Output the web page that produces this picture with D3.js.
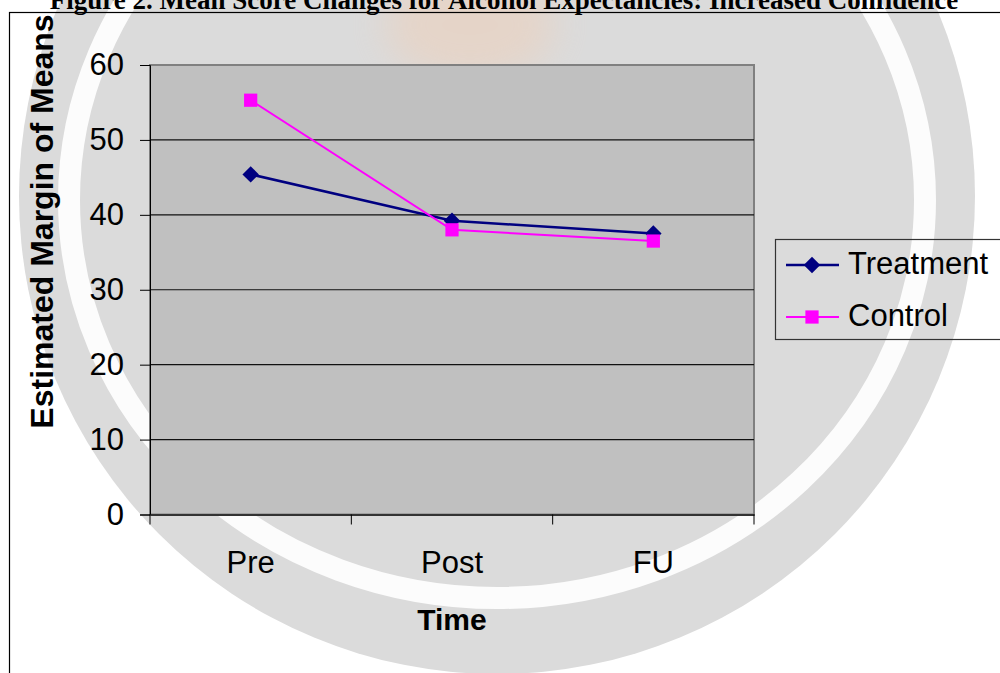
<!DOCTYPE html>
<html>
<head>
<meta charset="utf-8">
<script src="https://cdn.jsdelivr.net/npm/d3@7"></script>
<style>
  body { margin: 0; background: #fff; }
  svg { display: block; }
</style>
</head>
<body>
<script>
var titleText = "Figure 2.  Mean Score Changes for Alcohol Expectancies: Increased Confidence";
var yTitle = "Estimated Margin of Means";
var xTitle = "Time";
var times = ["Pre", "Post", "FU"];
var yTicks = [0, 10, 20, 30, 40, 50, 60];
var treatment = [45.4, 39.2, 37.5];
var control = [55.3, 38.0, 36.5];
var seriesNames = ["Treatment", "Control"];

var W = 1000, H = 673;
var plot = { left: 150, right: 754, top: 65, bottom: 514.5 };
var font = "Arial, 'Liberation Sans', sans-serif";

var svg = d3.select("body").append("svg")
    .attr("width", W)
    .attr("height", H);

var defs = svg.append("defs");
defs.append("filter").attr("id", "soft")
    .attr("x", "-50%").attr("y", "-50%").attr("width", "200%").attr("height", "200%")
    .append("feGaussianBlur").attr("stdDeviation", 18);

// faint seal watermark behind the page
var wm = svg.append("g").attr("class", "watermark");
wm.append("circle")
    .attr("cx", 497).attr("cy", 196).attr("r", 478)
    .attr("fill", "#dbdbdb");
wm.append("ellipse")
    .attr("cx", 470).attr("cy", 25).attr("rx", 85).attr("ry", 55)
    .attr("fill", "#f2cdb3").attr("opacity", 0.45)
    .attr("filter", "url(#soft)");
wm.append("ellipse")
    .attr("cx", 497).attr("cy", 200).attr("rx", 428).attr("ry", 398)
    .attr("fill", "none").attr("stroke", "#fff").attr("stroke-width", 22)
    .attr("opacity", 0.9);

// title, clipped at the top of the page
svg.append("text")
    .attr("x", 504).attr("y", 9)
    .attr("text-anchor", "middle")
    .attr("font-family", "'Liberation Serif', 'Times New Roman', serif")
    .attr("font-weight", "bold")
    .attr("font-size", 27)
    .text(titleText);

// chart border
svg.append("rect")
    .attr("x", 9.5).attr("y", 12.5)
    .attr("width", 1100).attr("height", 800)
    .attr("fill", "none").attr("stroke", "#000").attr("stroke-width", 1.2);

var x = d3.scaleBand()
    .domain(times)
    .range([plot.left, plot.right]);
var y = d3.scaleLinear()
    .domain([0, 60])
    .range([plot.bottom, plot.top]);

// plot area
svg.append("rect")
    .attr("x", plot.left).attr("y", plot.top)
    .attr("width", plot.right - plot.left).attr("height", plot.bottom - plot.top)
    .attr("fill", "#c0c0c0")
    .attr("stroke", "#808080").attr("stroke-width", 2);

// gridlines
svg.append("g").selectAll("line")
    .data(yTicks.filter(function (d) { return d > 0 && d < 60; }))
    .enter().append("line")
    .attr("x1", plot.left).attr("x2", plot.right)
    .attr("y1", function (d) { return y(d); })
    .attr("y2", function (d) { return y(d); })
    .attr("stroke", "#111").attr("stroke-width", 1.2);

// y axis
var yAxis = svg.append("g")
    .attr("transform", "translate(" + plot.left + ",0)")
    .call(d3.axisLeft(y).tickValues(yTicks).tickSize(10).tickPadding(16));
yAxis.select(".domain").attr("stroke", "#000");
yAxis.selectAll("line").attr("stroke", "#000");
yAxis.selectAll("text")
    .attr("font-family", font).attr("font-size", 31).attr("fill", "#000");

// x axis: labels centered, ticks between categories
var xAxis = svg.append("g")
    .attr("transform", "translate(0," + plot.bottom + ")")
    .call(d3.axisBottom(x).tickSize(0).tickPadding(36));
xAxis.select(".domain").attr("stroke", "#333").attr("stroke-width", 2);
xAxis.selectAll("text")
    .attr("font-family", font).attr("font-size", 31).attr("fill", "#000");
var edges = times.map(function (t) { return x(t); }).concat([x.range()[1]]);
xAxis.selectAll(".between").data(edges).enter().append("line")
    .attr("class", "between")
    .attr("x1", function (d) { return d; }).attr("x2", function (d) { return d; })
    .attr("y1", 0).attr("y2", 10)
    .attr("stroke", "#000");

// axis titles
svg.append("text")
    .attr("transform", "translate(53,221.5) rotate(-90)")
    .attr("text-anchor", "middle")
    .attr("font-family", font).attr("font-weight", "bold").attr("font-size", 32)
    .text(yTitle);
svg.append("text")
    .attr("x", x("Post") + x.bandwidth() / 2).attr("y", 630)
    .attr("text-anchor", "middle")
    .attr("font-family", font).attr("font-weight", "bold").attr("font-size", 30)
    .text(xTitle);

var cx = function (d, i) { return x(times[i]) + x.bandwidth() / 2; };
var line = d3.line()
    .x(cx)
    .y(function (d) { return y(d); });

var diamond = d3.symbol(d3.symbolSquare, 135);
var square = d3.symbol(d3.symbolSquare, 175);

var series = [
    { name: seriesNames[0], values: treatment, color: "#000080", width: 2.5, shape: diamond, rot: 45 },
    { name: seriesNames[1], values: control, color: "#ff00ff", width: 2, shape: square, rot: 0 }
];

series.forEach(function (s) {
    svg.append("path")
        .datum(s.values)
        .attr("d", line)
        .attr("fill", "none")
        .attr("stroke", s.color)
        .attr("stroke-width", s.width);
    svg.append("g").selectAll("path")
        .data(s.values)
        .enter().append("path")
        .attr("d", s.shape)
        .attr("transform", function (d, i) {
            return "translate(" + cx(d, i) + "," + y(d) + ") rotate(" + s.rot + ")";
        })
        .attr("fill", s.color);
});

// legend
var legend = svg.append("g").attr("class", "legend");
legend.append("rect")
    .attr("x", 775.5).attr("y", 239.5)
    .attr("width", 300).attr("height", 100)
    .attr("fill", "none").attr("stroke", "#333").attr("stroke-width", 1.2);
var entries = legend.selectAll(".entry")
    .data(series)
    .enter().append("g")
    .attr("class", "entry")
    .attr("transform", function (d, i) { return "translate(0," + (265 + i * 52) + ")"; });
entries.append("line")
    .attr("x1", 786).attr("x2", 839)
    .attr("stroke", function (d) { return d.color; })
    .attr("stroke-width", function (d) { return d.width; });
entries.append("path")
    .attr("d", function (d) { return d.shape(); })
    .attr("transform", function (d) { return "translate(812,0) rotate(" + d.rot + ")"; })
    .attr("fill", function (d) { return d.color; });
entries.append("text")
    .attr("x", 848).attr("y", 9)
    .attr("font-family", font).attr("font-size", 31)
    .text(function (d) { return d.name; });
</script>
</body>
</html>
